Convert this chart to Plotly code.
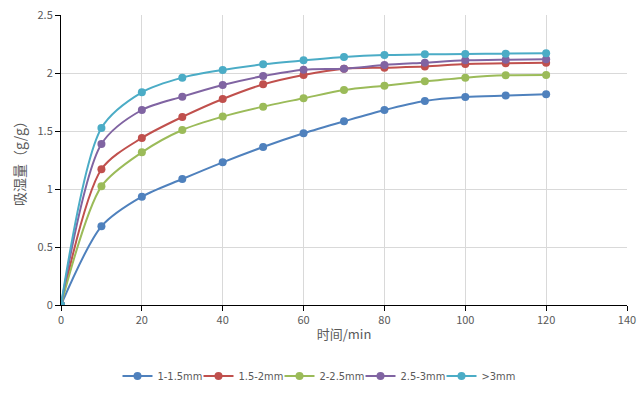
import plotly.graph_objects as go

time_min = [0, 10, 20, 30, 40, 50, 60, 70, 80, 90, 100, 110, 120]
s_1_15 = [0, 0.678, 0.934, 1.086, 1.230, 1.362, 1.480, 1.583, 1.681, 1.759, 1.793, 1.805, 1.816]
s_15_2 = [0, 1.170, 1.440, 1.621, 1.776, 1.902, 1.983, 2.037, 2.046, 2.055, 2.078, 2.083, 2.089]
s_2_25 = [0, 1.023, 1.316, 1.509, 1.624, 1.710, 1.782, 1.853, 1.891, 1.928, 1.960, 1.980, 1.983]
s_25_3 = [0, 1.388, 1.681, 1.796, 1.897, 1.974, 2.029, 2.037, 2.069, 2.089, 2.109, 2.115, 2.118]
s_gt3 = [0, 1.526, 1.833, 1.960, 2.026, 2.075, 2.109, 2.138, 2.155, 2.161, 2.164, 2.167, 2.170]

names = ["1-1.5mm", "1.5-2mm", "2-2.5mm", "2.5-3mm", ">3mm"]
series = [s_1_15, s_15_2, s_2_25, s_25_3, s_gt3]
colors = ["#4F81BD", "#C0504D", "#9BBB59", "#8064A2", "#4BACC6"]

fig = go.Figure()
for n, s, c in zip(names, series, colors):
    fig.add_trace(go.Scatter(
        x=time_min, y=s, name=n, mode="lines+markers",
        line=dict(color=c, width=2, shape="spline", smoothing=0.8),
        marker=dict(color=c, size=8),
    ))

font_family = "Noto Sans CJK SC, Noto Sans, sans-serif"
fig.update_layout(
    width=640, height=396,
    margin=dict(l=61, r=13, t=15, b=91, autoexpand=False),
    paper_bgcolor="white", plot_bgcolor="white",
    font=dict(family=font_family, size=11, color="#595959"),
    showlegend=True,
    legend=dict(orientation="h", xref="container", x=0.5, xanchor="center",
                y=-0.245, yanchor="middle",
                font=dict(size=11, color="#595959",
                          family="Liberation Sans Narrow, DejaVu Sans Condensed, Noto Sans, sans-serif"),
                itemwidth=30, entrywidth=36, entrywidthmode="pixels"),
)
fig.update_xaxes(
    range=[0, 140], dtick=20, tick0=0, automargin=False,
    showgrid=True, gridcolor="#D9D9D9", gridwidth=1,
    showline=True, linecolor="#000000", linewidth=1,
    ticks="outside", ticklen=5, tickcolor="#000000",
    zeroline=False,
    title=dict(text="时间/min", font=dict(size=13, color="#595959"), standoff=3),
)
fig.update_yaxes(
    range=[0, 2.5], dtick=0.5, tick0=0, automargin=False,
    showgrid=True, gridcolor="#D9D9D9", gridwidth=1,
    showline=True, linecolor="#000000", linewidth=1,
    ticks="outside", ticklen=5, tickcolor="#000000",
    zeroline=False,
    title=dict(text="吸湿量（g/g）", font=dict(size=14, color="#595959"), standoff=8),
)

fig.write_html("out.html", config={"displayModeBar": False},
               post_script="document.body.style.margin='0px';")
